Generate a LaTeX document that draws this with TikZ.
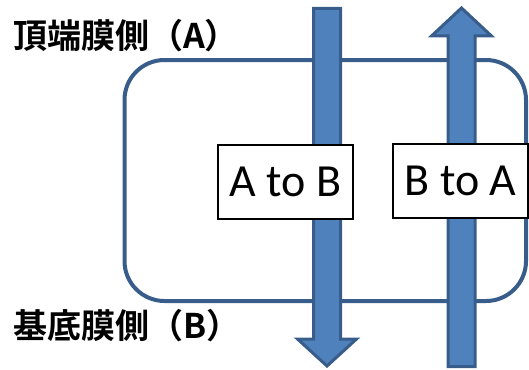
\documentclass[tikz,border=0pt]{standalone}
\usepackage{fontspec}
\setmainfont{Carlito}
\newfontfamily\cjkfont{Noto Sans CJK JP}[BoldFont={Noto Sans CJK JP Bold}]
\definecolor{edgeblue}{HTML}{385D8A}
\definecolor{fillblue}{HTML}{4F81BD}
\tikzset{
  cell/.style={draw=edgeblue, line width=4pt, rounded corners=40pt},
  flow/.style={draw=edgeblue, fill=fillblue, line width=3pt, line join=miter},
  tag/.style={draw=black, line width=1.2pt, fill=white, inner sep=0pt,
              minimum width=135pt, minimum height=74pt,
              font=\fontsize{46}{46}\selectfont},
  side/.style={anchor=west, inner sep=0pt, text=black,
               font=\cjkfont\bfseries\fontsize{34}{34}\selectfont}
}
\begin{document}
\begin{tikzpicture}[x=1pt, y=-1pt]
  \useasboundingbox (0,0) rectangle (529,369);
  % cell outline
  \draw[cell] (124.5,60) rectangle (526,301);
  % downward transport arrow (A to B)
  \draw[flow] (313.5,8.5) -- (340.5,8.5) -- (340.5,339) -- (356.5,339)
              -- (327,366) -- (297.5,339) -- (313.5,339) -- cycle;
  % upward transport arrow (B to A)
  \draw[flow] (448,366.5) -- (475,366.5) -- (475,36) -- (491.5,36)
              -- (461.5,8) -- (431.5,36) -- (448,36) -- cycle;
  % direction labels
  \node[tag] (atob) at (285.5,182) {A to B};
  \node[tag] (btoa) at (460.5,181) {B to A};
  % membrane side labels
  \node[side] (apical) at (13,36) {頂端膜側（A）};
  \node[side] (basal) at (13,326) {基底膜側（B）};
\end{tikzpicture}
\end{document}
